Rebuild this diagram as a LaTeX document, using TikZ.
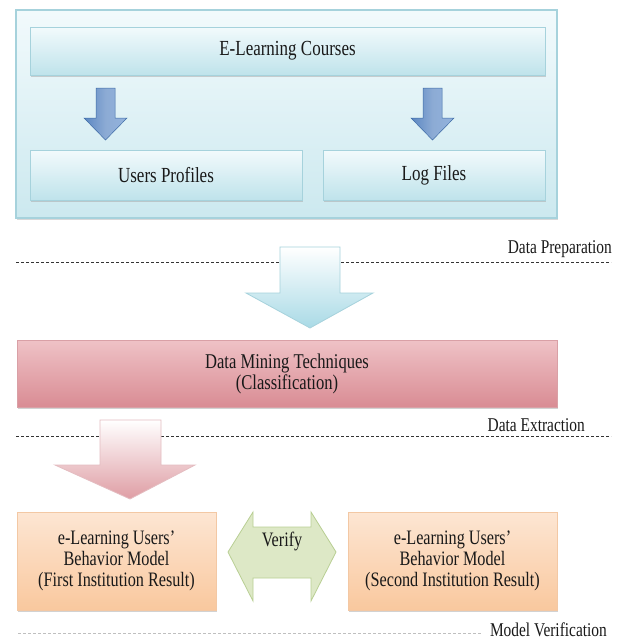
\documentclass[tikz,border=0pt]{standalone}
\usepackage{fontspec}
\setmainfont{Liberation Serif}
\usetikzlibrary{shadows}
\definecolor{blueedge}{HTML}{A6D2DC}
\definecolor{bluetop}{HTML}{F2FAFC}
\definecolor{bluebot}{HTML}{BFE3EB}
\definecolor{arrowblue}{HTML}{5B87C2}
\definecolor{arrowbluel}{HTML}{93B3DD}
\definecolor{arrowedge}{HTML}{3E6BA6}
\definecolor{bigbot}{HTML}{A9DAE6}
\definecolor{redtop}{HTML}{EFC2C6}
\definecolor{redmid}{HTML}{F6DCDF}
\definecolor{redbot}{HTML}{D98C94}
\definecolor{rededge}{HTML}{D9A0A6}
\definecolor{orangetop}{HTML}{FDE6D3}
\definecolor{orangebot}{HTML}{F9C89E}
\definecolor{orangeedge}{HTML}{F3C8A4}
\definecolor{greenfill}{HTML}{DDE8C6}
\definecolor{greenedge}{HTML}{B9CF94}
\newcommand{\sq}[1]{\scalebox{0.79}[1]{#1}}
\tikzset{
  txt/.style={font=\fontsize{21.5}{22}\selectfont, text=black!90, align=center},
  bluebox/.style={draw=blueedge, line width=0.8pt, top color=bluetop, bottom color=bluebot,
    drop shadow={shadow xshift=1pt, shadow yshift=-2pt, fill=black!35, opacity=0.5}},
  outerbox/.style={draw=blueedge, line width=1.2pt, top color=bluetop, bottom color=bluebot!80,
    drop shadow={shadow xshift=1pt, shadow yshift=-2pt, fill=black!30, opacity=0.5}},
  redbox/.style={draw=rededge, line width=0.6pt, top color=redtop, middle color=redmid, bottom color=redbot,
    drop shadow={shadow xshift=1pt, shadow yshift=-2pt, fill=black!35, opacity=0.5}},
  orangebox/.style={draw=orangeedge, line width=0.6pt, top color=orangetop, bottom color=orangebot,
    drop shadow={shadow xshift=1pt, shadow yshift=-2pt, fill=black!35, opacity=0.5}},
  barrow/.style={draw=arrowedge, line width=0.5pt, left color=arrowblue, right color=arrowbluel, middle color=arrowblue!70!white},
  bigarrow/.style={draw=blueedge, line width=0.8pt, top color=white, bottom color=bigbot},
  pinkarrow/.style={draw=rededge!70, line width=0.8pt, top color=white, bottom color=redbot!85},
  greenarrow/.style={draw=greenedge, line width=0.8pt, top color=greenfill, middle color=white!60!greenfill, bottom color=greenfill},
  sepline/.style={dashed, dash pattern=on 3pt off 2pt, line width=0.8pt, black!80},
  seplabel/.style={font=\fontsize{19.5}{20}\selectfont, text=black!90, inner sep=0pt},
}
\begin{document}
\begin{tikzpicture}[x=1pt,y=-1pt]
\useasboundingbox (0,0) rectangle (617,640);
\fill[white] (0,0) rectangle (617,640);

% outer container
\node[outerbox, minimum width=541pt, minimum height=208pt, inner sep=0pt] (outer) at (286.5,114) {};
\node[bluebox, minimum width=515pt, minimum height=48pt, inner sep=0pt, txt] (courses) at (287.5,51) {\sq{E-Learning Courses}};
\node[bluebox, minimum width=272pt, minimum height=50pt, inner sep=0pt, txt] (profiles) at (166,175) {\sq{Users Profiles}};
\node[bluebox, minimum width=222pt, minimum height=50pt, inner sep=0pt, txt] (logs) at (434,175) {\sq{Log Files}};

% small blue arrows
\path[barrow] (96,88) -- (115,88) -- (115,118) -- (127,118) -- (105.5,140) -- (84,118) -- (96,118) -- cycle;
\path[barrow] (423,88) -- (442,88) -- (442,118) -- (454,118) -- (432.5,140) -- (411,118) -- (423,118) -- cycle;

% separator 1
\coordinate (s1a) at (16,262);
\coordinate (s1b) at (611,262);
\draw[sepline] (s1a) -- (s1b);
\node[seplabel, anchor=south east] (lprep) at (612,258) {\sq{Data Preparation}};

% big light-blue arrow
\path[bigarrow] (280,247) -- (340,247) -- (340,293) -- (373,293) -- (310,328) -- (246,293) -- (280,293) -- cycle;

% data mining box
\node[redbox, minimum width=540pt, minimum height=67pt, inner sep=0pt, txt, font=\fontsize{21}{21}\selectfont] (mining) at (287,373.5) {\sq{Data Mining Techniques}\\\sq{(Classification)}};

% separator 2
\coordinate (s2a) at (16,436);
\coordinate (s2b) at (611,436);
\draw[sepline] (s2a) -- (s2b);
\node[seplabel, anchor=south east] (lext) at (585,432) {\sq{Data Extraction}};

% pink arrow
\path[pinkarrow] (100,420) -- (161,420) -- (161,465) -- (195,465) -- (130,499) -- (55,465) -- (100,465) -- cycle;

% result boxes
\node[orangebox, minimum width=199pt, minimum height=98pt, inner sep=0pt, txt, font=\fontsize{20.5}{21}\selectfont] (first) at (116.5,561) {\sq{e-Learning Users'}\\\sq{Behavior Model}\\\sq{(First Institution Result)}};
\node[orangebox, minimum width=209pt, minimum height=98pt, inner sep=0pt, txt, font=\fontsize{20.5}{21}\selectfont] (second) at (452.5,561) {\sq{e-Learning Users'}\\\sq{Behavior Model}\\\sq{(Second Institution Result)}};

% verify double arrow
\path[greenarrow] (228,552) -- (253,512) -- (253,527) -- (311,527) -- (311,512) -- (336,552) -- (311,601) -- (311,578) -- (253,578) -- (253,601) -- cycle;
\node[txt, font=\fontsize{20.5}{21}\selectfont] (verify) at (282,541) {\sq{Verify}};

% separator 3
\coordinate (s3a) at (18,633);
\coordinate (s3b) at (482,633);
\draw[sepline, black!25] (s3a) -- (s3b);
\node[seplabel, anchor=south east] (lver) at (607,637) {\sq{Model Verification}};
\end{tikzpicture}
\end{document}
